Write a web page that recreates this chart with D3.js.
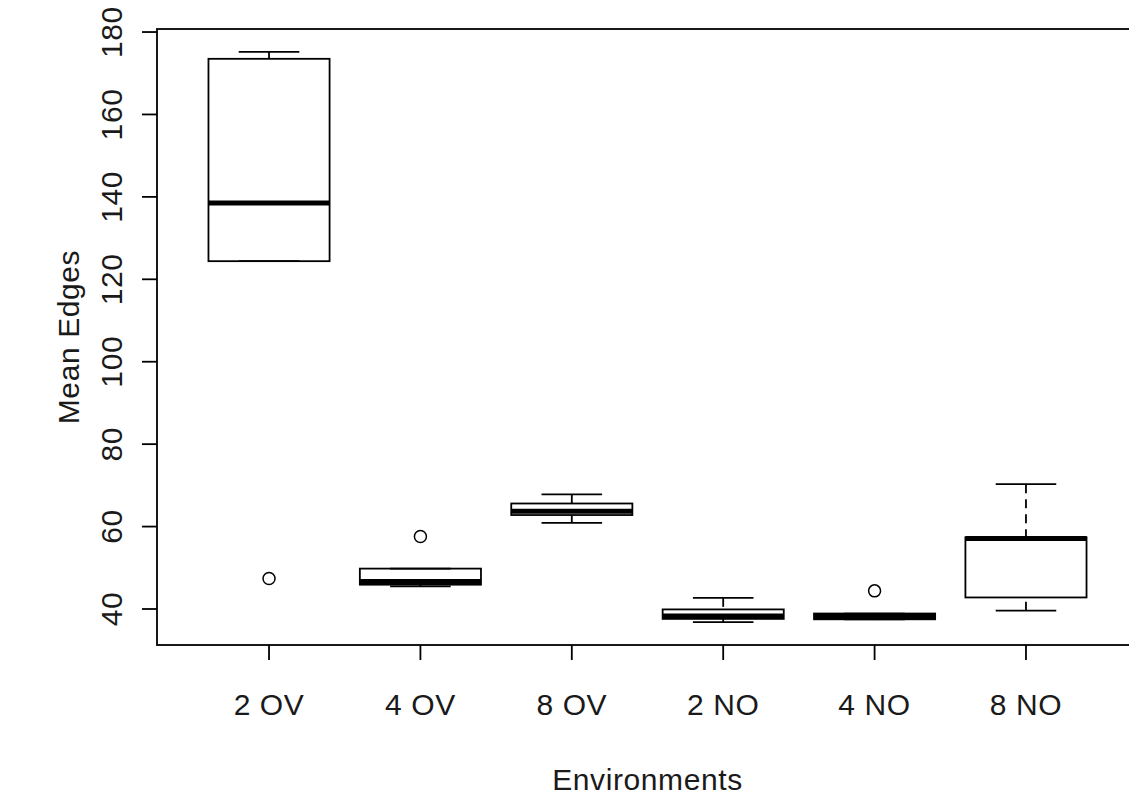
<!DOCTYPE html>
<html>
<head>
<meta charset="utf-8">
<script src="https://cdn.jsdelivr.net/npm/d3@7"></script>
<style>
  html, body { margin: 0; padding: 0; background: #fff; }
  svg text { font-family: "Liberation Sans", Arial, sans-serif; fill: #1a1a1a; letter-spacing: 0.6px; }
</style>
</head>
<body>
<div id="chart"></div>
<script>
// Box statistics per environment
const groups = ["2 OV", "4 OV", "8 OV", "2 NO", "4 NO", "8 NO"];
const lowerWhisker = [124.4, 45.5, 60.9, 36.8, 37.5, 39.6];
const lowerQuartile = [124.4, 45.9, 62.8, 37.6, 37.5, 42.8];
const medians = [138.5, 46.7, 63.7, 38.3, 38.2, 57.1];
const upperQuartile = [173.5, 49.8, 65.6, 39.9, 38.9, 57.4];
const upperWhisker = [175.2, 49.8, 67.8, 42.7, 38.9, 70.3];
const outliers = [[47.4], [57.6], [], [], [44.4], []];
const yTicks = [40, 60, 80, 100, 120, 140, 160, 180];

const width = 1129, height = 798;
const plot = { left: 157, right: 1138, top: 29, bottom: 645 };
const lw = 1.8;

const svg = d3.select("#chart").append("svg")
  .attr("width", width)
  .attr("height", height);

// R style: pad the data range by 4% on each side
const allVals = lowerWhisker.concat(upperWhisker, outliers.flat());
const lo = d3.min(allVals), hi = d3.max(allVals);
const pad = (hi - lo) * 0.04;
const y = d3.scaleLinear().domain([lo - pad, hi + pad]).range([plot.bottom, plot.top]);

const n = groups.length;
const xPad = n * 0.04;
const x = d3.scaleLinear().domain([0.5 - xPad, n + 0.5 + xPad]).range([plot.left, plot.right]);
const unit = x(2) - x(1);
const boxW = unit * 0.8, capW = boxW / 2;

const data = groups.map((g, i) => ({
  name: g, i: i + 1,
  lw: lowerWhisker[i], q1: lowerQuartile[i], med: medians[i],
  q3: upperQuartile[i], uw: upperWhisker[i], out: outliers[i]
}));

const boxes = svg.append("g").selectAll("g").data(data).join("g");

// whiskers (dashed, drawn from the extreme to the box)
boxes.append("line")
  .attr("x1", d => x(d.i)).attr("x2", d => x(d.i))
  .attr("y1", d => y(d.uw)).attr("y2", d => y(d.q3))
  .attr("stroke", "#000").attr("stroke-width", lw)
  .attr("stroke-dasharray", "9,6");
boxes.append("line")
  .attr("x1", d => x(d.i)).attr("x2", d => x(d.i))
  .attr("y1", d => y(d.lw)).attr("y2", d => y(d.q1))
  .attr("stroke", "#000").attr("stroke-width", lw)
  .attr("stroke-dasharray", "9,6");

// caps
boxes.selectAll("line.cap").data(d => [d.uw, d.lw].map(v => ({ i: d.i, v })))
  .join("line").attr("class", "cap")
  .attr("x1", d => x(d.i) - capW / 2).attr("x2", d => x(d.i) + capW / 2)
  .attr("y1", d => y(d.v)).attr("y2", d => y(d.v))
  .attr("stroke", "#000").attr("stroke-width", lw);

// box
boxes.append("rect")
  .attr("x", d => x(d.i) - boxW / 2)
  .attr("y", d => y(d.q3))
  .attr("width", boxW)
  .attr("height", d => Math.max(0, y(d.q1) - y(d.q3)))
  .attr("fill", "none").attr("stroke", "#000").attr("stroke-width", lw);

// median
boxes.append("line")
  .attr("x1", d => x(d.i) - boxW / 2).attr("x2", d => x(d.i) + boxW / 2)
  .attr("y1", d => y(d.med)).attr("y2", d => y(d.med))
  .attr("stroke", "#000").attr("stroke-width", 5);

// outliers
boxes.selectAll("circle").data(d => d.out.map(v => ({ i: d.i, v })))
  .join("circle")
  .attr("cx", d => x(d.i)).attr("cy", d => y(d.v)).attr("r", 6)
  .attr("fill", "none").attr("stroke", "#000").attr("stroke-width", 1.5);

// plot frame
svg.append("rect")
  .attr("x", plot.left).attr("y", plot.top)
  .attr("width", plot.right - plot.left).attr("height", plot.bottom - plot.top)
  .attr("fill", "none").attr("stroke", "#000").attr("stroke-width", lw);

// y axis
const yAxis = svg.append("g");
yAxis.selectAll("line").data(yTicks).join("line")
  .attr("x1", plot.left - 15).attr("x2", plot.left)
  .attr("y1", d => y(d)).attr("y2", d => y(d))
  .attr("stroke", "#000").attr("stroke-width", lw);
yAxis.selectAll("text").data(yTicks).join("text")
  .attr("transform", d => `translate(122,${y(d)}) rotate(-90)`)
  .attr("text-anchor", "middle")
  .style("font-size", "30px")
  .text(d => d);

// x axis
const xAxis = svg.append("g");
xAxis.selectAll("line").data(data).join("line")
  .attr("x1", d => x(d.i)).attr("x2", d => x(d.i))
  .attr("y1", plot.bottom).attr("y2", plot.bottom + 15)
  .attr("stroke", "#000").attr("stroke-width", lw);
xAxis.selectAll("text").data(data).join("text")
  .attr("x", d => x(d.i)).attr("y", 715)
  .attr("text-anchor", "middle")
  .style("font-size", "30px")
  .text(d => d.name);

// axis titles
svg.append("text")
  .attr("x", (plot.left + plot.right) / 2).attr("y", 790)
  .attr("text-anchor", "middle")
  .style("font-size", "30px")
  .text("Environments");
svg.append("text")
  .attr("transform", `translate(79,${(plot.top + plot.bottom) / 2}) rotate(-90)`)
  .attr("text-anchor", "middle")
  .style("font-size", "30px")
  .text("Mean Edges");
</script>
</body>
</html>
